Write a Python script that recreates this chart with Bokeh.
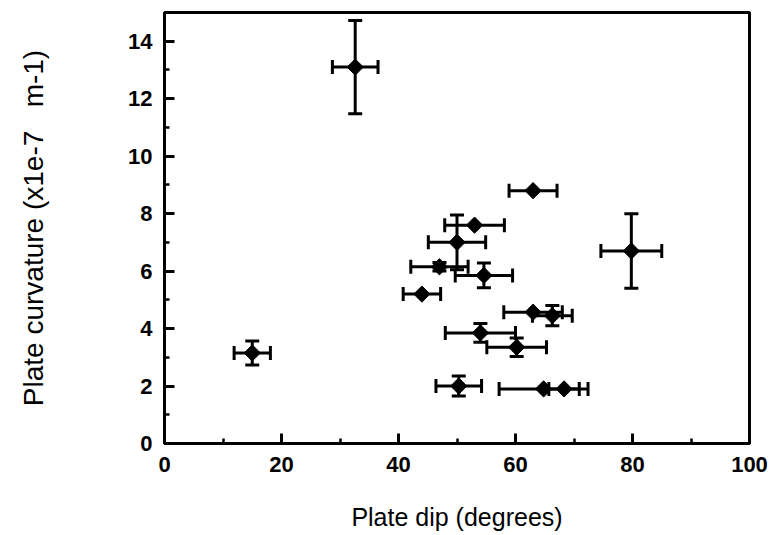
import numpy as np
from bokeh.plotting import figure
from bokeh.models import Range1d, SingleIntervalTicker, ColumnDataSource, Whisker, TeeHead
from bokeh.embed import file_html
from bokeh.resources import INLINE

# Plate dip (degrees) and plate curvature (x1e-7 m-1), with error estimates
dip = [32.6, 15.0, 63.0, 53.0, 50.0, 47.0, 54.6, 44.0, 63.0, 66.3, 79.8, 54.0, 60.2, 50.3, 64.8, 68.3]
curv = [13.1, 3.15, 8.8, 7.6, 7.0, 6.15, 5.85, 5.2, 4.57, 4.45, 6.7, 3.85, 3.35, 2.0, 1.9, 1.9]
dip_err = [3.9, 3.1, 4.1, 5.1, 4.9, 4.9, 4.9, 3.2, 5.0, 3.4, 5.2, 6.0, 5.1, 3.9, 7.6, 2.6]
curv_err = [1.62, 0.42, 0.0, 0.0, 0.95, 0.15, 0.43, 0.0, 0.0, 0.35, 1.3, 0.33, 0.32, 0.35, 0.0, 0.0]

x_title = "Plate dip (degrees)"
y_title = "Plate curvature (x1e-7\u00a0\u00a0\u00a0m-1)"

FONT = "Liberation Sans"

p = figure(width=778, height=535, x_range=Range1d(0, 100), y_range=Range1d(0, 15),
           output_backend="svg", toolbar_location=None,
           min_border_left=164, min_border_right=29, min_border_top=12, min_border_bottom=92)
p.grid.visible = False
p.background_fill_color = "white"
p.border_fill_color = "white"
p.outline_line_color = "black"
p.outline_line_width = 3

p.xaxis.ticker = SingleIntervalTicker(interval=20, num_minor_ticks=2)
p.yaxis.ticker = SingleIntervalTicker(interval=2, num_minor_ticks=2)

for ax in (p.xaxis[0], p.yaxis[0]):
    ax.axis_line_width = 3
    ax.axis_line_color = "black"
    ax.major_tick_in = 10
    ax.major_tick_out = 0
    ax.minor_tick_in = 5
    ax.minor_tick_out = 0
    ax.major_tick_line_width = 3
    ax.minor_tick_line_width = 2.5
    ax.major_tick_line_color = "black"
    ax.minor_tick_line_color = "black"
    ax.major_label_text_font = FONT
    ax.major_label_text_font_style = "bold"
    ax.major_label_text_color = "black"
    ax.axis_label_text_font = FONT
    ax.axis_label_text_font_style = "normal"
    ax.axis_label_text_color = "black"

p.xaxis.axis_label = x_title
p.yaxis.axis_label = y_title
p.xaxis.major_label_text_font_size = "22px"
p.yaxis.major_label_text_font_size = "22px"
p.xaxis.axis_label_text_font_size = "25px"
p.yaxis.axis_label_text_font_size = "28px"
p.xaxis.major_label_standoff = 13
p.yaxis.major_label_standoff = 12
p.xaxis.axis_label_standoff = 28
p.yaxis.axis_label_standoff = 76

# horizontal error bars
src_h = ColumnDataSource(dict(
    base=curv,
    lower=[d - e for d, e in zip(dip, dip_err)],
    upper=[d + e for d, e in zip(dip, dip_err)],
))
p.add_layout(Whisker(source=src_h, base="base", lower="lower", upper="upper", dimension="width",
                     line_width=3, line_color="black",
                     lower_head=TeeHead(size=14, line_width=3, line_color="black"),
                     upper_head=TeeHead(size=14, line_width=3, line_color="black")))

# vertical error bars (only where visible)
vx = [d for d, e in zip(dip, curv_err) if e > 0]
vy = [c for c, e in zip(curv, curv_err) if e > 0]
ve = [e for e in curv_err if e > 0]
src_v = ColumnDataSource(dict(
    base=vx,
    lower=[c - e for c, e in zip(vy, ve)],
    upper=[c + e for c, e in zip(vy, ve)],
))
p.add_layout(Whisker(source=src_v, base="base", lower="lower", upper="upper", dimension="height",
                     line_width=3, line_color="black",
                     lower_head=TeeHead(size=14, line_width=3, line_color="black"),
                     upper_head=TeeHead(size=14, line_width=3, line_color="black")))

p.scatter(dip, curv, marker="square", angle=np.pi / 4, size=11.5, color="black")

open("out.html", "w").write(file_html(p, INLINE))
